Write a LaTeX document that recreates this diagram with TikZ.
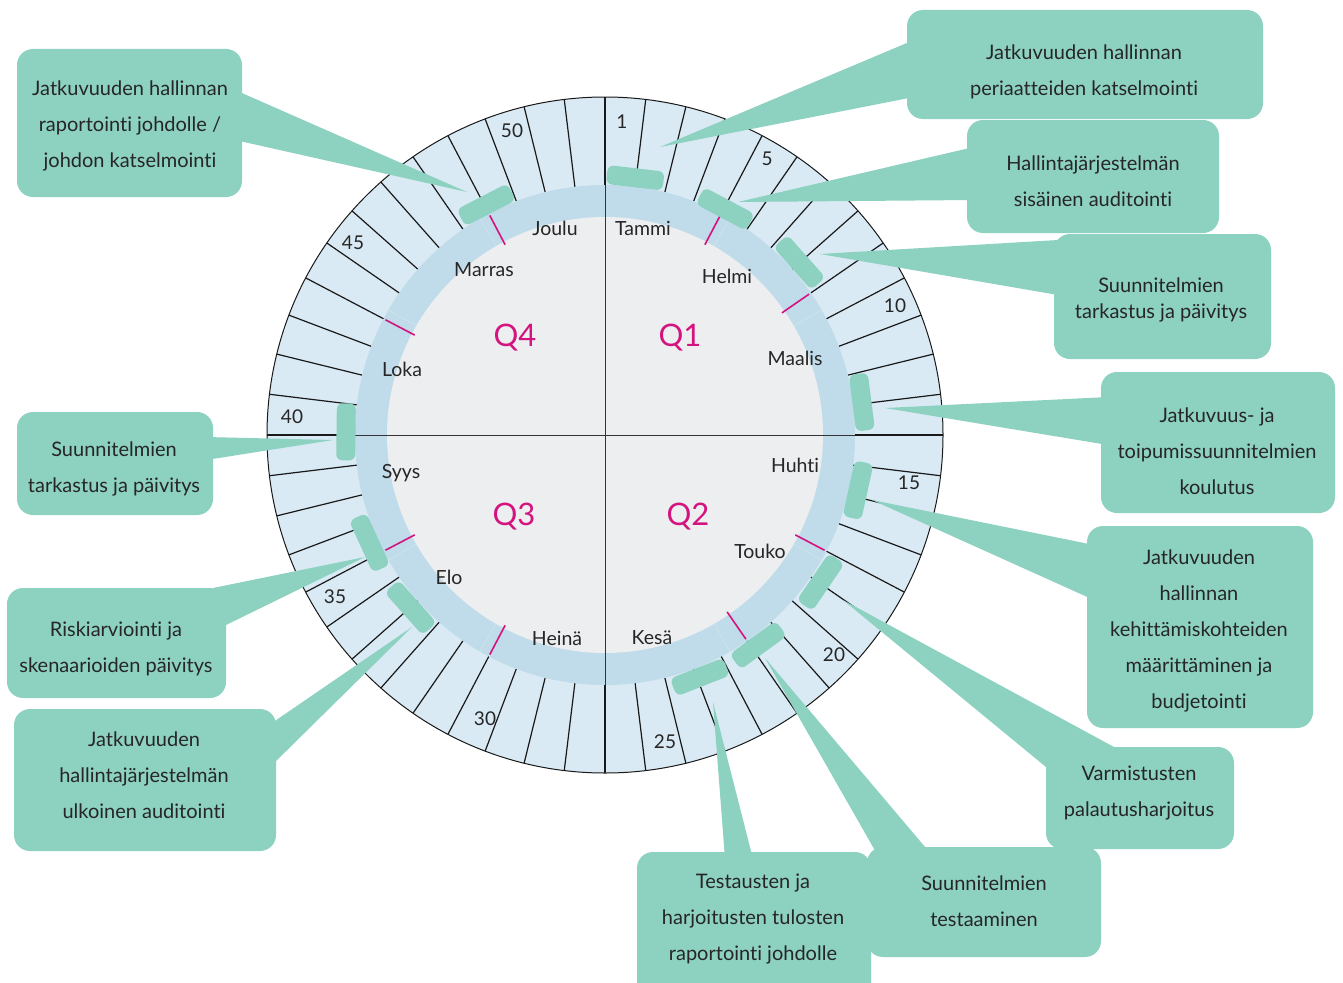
\documentclass[tikz,border=0pt]{standalone}
\usepackage{fontspec}
\setmainfont{Lato}[Ligatures={NoCommon,NoRare,NoContextual}]
\usetikzlibrary{calc}
\definecolor{tealbox}{HTML}{8DD1C1}
\definecolor{ringblue}{HTML}{D9EAF4}
\definecolor{bandblue}{HTML}{C0DBE9}
\definecolor{diskgrey}{HTML}{EDEEF0}
\definecolor{magq}{HTML}{D4137F}
\definecolor{txt}{HTML}{262626}
\begin{document}
\begin{tikzpicture}[x=1pt,y=1pt,
  box/.style={fill=tealbox, rounded corners=16pt, inner sep=0pt, draw=none},
  boxtext/.style={align=center, text=txt, font=\fontsize{20}{36}\selectfont, inner sep=0pt},
  monthlbl/.style={text=txt, font=\fontsize{19.5}{21}\selectfont, inner sep=0pt},
  weeknum/.style={text=txt, font=\fontsize{19}{21}\selectfont, inner sep=0pt},
  qlbl/.style={text=magq, font=\fontsize{31}{33}\selectfont, inner sep=0pt},
  marker/.style={fill=tealbox, rounded corners=6pt, minimum width=57pt, minimum height=19pt, inner sep=0pt},
  weekline/.style={line width=1.2pt, draw=black!90},
  pointer/.style={fill=tealbox}
]
\useasboundingbox (0,0) rectangle (1343,-982);
\fill[white] (0,0) rectangle (1343,-982);

\begin{scope}[shift={(605,-435)}]
  % outer ring of weeks
  \fill[ringblue] (0,0) circle (338);
  \foreach \k in {0,...,51}{
    \draw[weekline] ({90-\k*6.9230769}:250) -- ({90-\k*6.9230769}:338);
  }
  \draw[line width=1pt, black!90] (0,0) circle (338);
  % month band
  \fill[bandblue] (0,0) circle (250);
  \foreach \a in {30,60,120,150,210,240,300,330}{
    \draw[white, opacity=0.35, line width=0.4pt] ({90-\a}:218) -- ({90-\a}:250);
  }
  % inner disk
  \fill[diskgrey] (0,0) circle (218);
  % quarter lines
  \draw[line width=0.9pt, black!80] (0,338) -- (0,-338);
  \draw[line width=0.9pt, black!80] (-338,0) -- (338,0);
  \foreach \k in {0,13,26,39}{
    \draw[line width=1.6pt, black!90] ({90-\k*6.9230769}:250) -- ({90-\k*6.9230769}:338);
  }
  % month ticks
  \foreach \k in {4,8,17,21,30,35,43,48}{
    \draw[magq, line width=1.6pt] ({90-\k*6.9230769}:215) -- ({90-\k*6.9230769}:248);
  }
\end{scope}

% month labels
\node[monthlbl] (mTammi) at (643,-228) {Tammi};
\node[monthlbl] (mHelmi) at (727,-276) {Helmi};
\node[monthlbl] (mMaalis) at (795,-358) {Maalis};
\node[monthlbl] (mHuhti) at (795,-465) {Huhti};
\node[monthlbl] (mTouko) at (760,-551) {Touko};
\node[monthlbl] (mKesa) at (652,-638) {Kesä};
\node[monthlbl] (mHeina) at (557,-638) {Heinä};
\node[monthlbl] (mElo) at (449,-577) {Elo};
\node[monthlbl] (mSyys) at (401,-473) {Syys};
\node[monthlbl] (mLoka) at (402,-369) {Loka};
\node[monthlbl] (mMarras) at (484,-270) {Marras};
\node[monthlbl] (mJoulu) at (555,-228) {Joulu};

% quarter labels
\node[qlbl] (q1) at (680,-338) {Q1};
\node[qlbl] (q2) at (688,-517) {Q2};
\node[qlbl] (q3) at (514,-517) {Q3};
\node[qlbl] (q4) at (515,-338) {Q4};

% week numbers
\node[weeknum] (w1) at (622,-122) {1};
\node[weeknum] (w5) at (767,-159) {5};
\node[weeknum] (w10) at (895,-306) {10};
\node[weeknum] (w15) at (909,-483) {15};
\node[weeknum] (w20) at (834,-655) {20};
\node[weeknum] (w25) at (665,-742) {25};
\node[weeknum] (w30) at (485,-719) {30};
\node[weeknum] (w35) at (335,-597) {35};
\node[weeknum] (w40) at (292,-417) {40};
\node[weeknum] (w45) at (353,-243) {45};
\node[weeknum] (w50) at (512,-131) {50};

% pointer tips
\coordinate (t1) at (467,-192);
\coordinate (t2) at (660,-147);
\coordinate (t3) at (738,-202);
\coordinate (t4) at (820,-254);
\coordinate (t5) at (885,-408);
\coordinate (t6) at (872,-500);
\coordinate (t7) at (843,-600);
\coordinate (t8) at (765,-658);
\coordinate (t9) at (713,-702);
\coordinate (t10) at (412,-627);
\coordinate (t11) at (365,-557);
\coordinate (t12) at (333,-440);

% pointers
\fill[pointer] (235,-90) -- (t1) -- (235,-140) -- cycle;
\fill[pointer] (914,-40) -- (t2) -- (914,-97) -- cycle;
\fill[pointer] (974,-147) -- (t3) -- (974,-200) -- cycle;
\fill[pointer] (1058,-240) -- (t4) -- (1058,-295) -- cycle;
\fill[pointer] (1108,-397) -- (t5) -- (1108,-445) -- cycle;
\fill[pointer] (1094,-545) -- (t6) -- (1094,-600) -- cycle;
\fill[pointer] (1114,-747) -- (t7) -- (1046,-767) -- (1060,-760) -- cycle;
\fill[pointer] (877,-854) -- (t8) -- (931,-854) -- cycle;
\fill[pointer] (725,-859) -- (t9) -- (753,-859) -- cycle;
\fill[pointer] (269,-725) -- (t10) -- (269,-768) -- cycle;
\fill[pointer] (213,-588) -- (t11) -- (226,-625) -- (215,-610) -- cycle;
\fill[pointer] (206,-437) -- (t12) -- (206,-460) -- cycle;

% boxes
\node[box, minimum width=225pt, minimum height=148pt] (b1) at (129.5,-123) {};
\node[box, minimum width=356pt, minimum height=109pt] (b2) at (1085,-64.5) {};
\node[box, minimum width=252pt, minimum height=113pt] (b3) at (1093,-176.5) {};
\node[box, minimum width=217pt, minimum height=125pt] (b4) at (1162.5,-296.5) {};
\node[box, minimum width=234pt, minimum height=141pt] (b5) at (1218,-442.5) {};
\node[box, minimum width=226pt, minimum height=202pt] (b6) at (1200,-627) {};
\node[box, minimum width=188pt, minimum height=102pt] (b7) at (1140,-798) {};
\node[box, minimum width=234pt, minimum height=110pt] (b8) at (984,-902) {};
\node[box, minimum width=234pt, minimum height=148pt] (b9) at (754,-926) {};
\node[box, minimum width=262pt, minimum height=142pt] (b10) at (145,-780) {};
\node[box, minimum width=219pt, minimum height=110pt] (b11) at (116.5,-643) {};
\node[box, minimum width=196pt, minimum height=103pt] (b12) at (115,-463.5) {};

% box texts
\node[boxtext] (l1) at (130,-126) {Jatkuvuuden hallinnan\\raportointi johdolle /\\johdon katselmointi};
\node[boxtext] (l2) at (1084,-72) {Jatkuvuuden hallinnan\\periaatteiden katselmointi};
\node[boxtext] (l3) at (1093,-181) {Hallintajärjestelmän\\sisäinen auditointi};
\node[boxtext, font=\fontsize{20}{26}\selectfont] (l4) at (1161,-300) {Suunnitelmien\\tarkastus ja päivitys};
\node[boxtext] (l5) at (1217,-451) {Jatkuvuus- ja\\toipumissuunnitelmien\\koulutus};
\node[boxtext] (l6) at (1199,-631) {Jatkuvuuden\\hallinnan\\kehittämiskohteiden\\määrittäminen ja\\budjetointi};
\node[boxtext] (l7) at (1139,-793) {Varmistusten\\palautusharjoitus};
\node[boxtext] (l8) at (984,-901) {Suunnitelmien\\testaaminen};
\node[boxtext] (l9) at (753,-919) {Testausten ja\\harjoitusten tulosten\\raportointi johdolle};
\node[boxtext] (l10) at (144,-775) {Jatkuvuuden\\hallintajärjestelmän\\ulkoinen auditointi};
\node[boxtext] (l11) at (116,-649) {Riskiarviointi ja\\skenaarioiden päivitys};
\node[boxtext] (l12) at (114,-469) {Suunnitelmien\\tarkastus ja päivitys};

% activity markers
\begin{scope}[shift={(605,-435)}]
  \node[marker, rotate=-6.7] (k1) at ({90-6.7}:259) {};
  \node[marker, rotate=-28] (k2) at ({90-28}:256) {};
  \node[marker, rotate=-48.4] (k3) at ({90-48.4}:260) {};
  \node[marker, rotate=-82.7] (k4) at ({90-82.7}:259) {};
  \node[marker, rotate=-102.3] (k5) at ({90-102.3}:259) {};
  \node[marker, rotate=-124.3] (k6) at ({90-124.3}:261) {};
  \node[marker, rotate=-143.9] (k7) at ({90-143.9}:260) {};
  \node[marker, rotate=-158.6] (k8) at ({90-158.6}:260) {};
  \node[marker, rotate=-228.4] (k9) at ({90-228.4}:260) {};
  \node[marker, rotate=-245.4] (k10) at ({90-245.4}:259) {};
  \node[marker, rotate=-270.7] (k11) at ({90-270.7}:259) {};
  \node[marker, rotate=-332.7] (k12) at ({90-332.7}:259) {};
\end{scope}
\end{tikzpicture}
\end{document}
